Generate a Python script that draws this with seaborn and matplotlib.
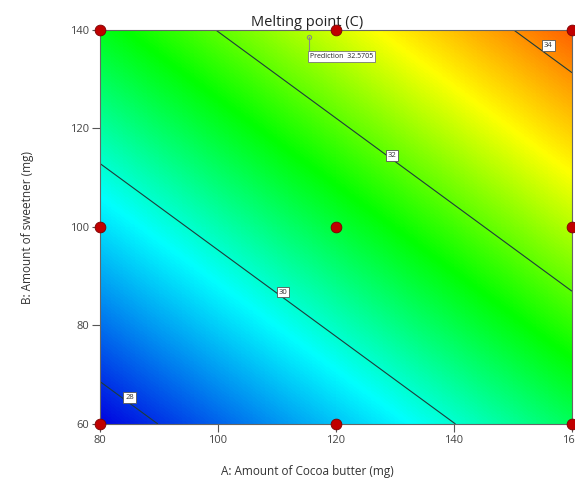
import numpy as np
import pandas as pd
import matplotlib
matplotlib.use("Agg")
import matplotlib.pyplot as plt
from matplotlib.colors import LinearSegmentedColormap
import seaborn as sns

# Design levels
cocoa_butter = [80, 120, 160]          # A (mg)
sweetener = [60, 100, 140]             # B (mg)
# Predicted melting point (C) at design grid, rows = sweetener, cols = cocoa butter
melting_point = [
    [27.61, 29.20, 30.78],   # B = 60
    [29.42, 31.00, 32.59],   # B = 100
    [31.22, 32.81, 34.39],   # B = 140
]
contour_levels = [28, 30, 32, 34]
x_ticks = [80, 100, 120, 140, 160]
y_ticks = [60, 80, 100, 120, 140]
pred_A, pred_B, pred_label = 115.4, 138.6, "Prediction  32.5705"

sns.set_theme(style="white")
plt.rcParams['font.family'] = ['Open Sans', 'DejaVu Sans']

fig = plt.figure(figsize=(5.75, 4.79), dpi=100)
ax = fig.add_axes([100/575, 1-424/479, 472/575, 394/479])

Z = np.array(melting_point)
vmin, vmax = 27.6, 35.2
nodes = [(27.6, "#0000e0"), (29.7, "#00ffff"), (31.4, "#00ff00"),
         (33.1, "#ffff00"), (35.2, "#ff0000")]
cmap = LinearSegmentedColormap.from_list(
    "de", [((v - vmin) / (vmax - vmin), c) for v, c in nodes])
ax.imshow(Z, origin="lower", extent=[60, 180, 40, 160], cmap=cmap,
          vmin=vmin, vmax=vmax, interpolation="bilinear", aspect="auto",
          interpolation_stage="data")

AA, BB = np.meshgrid(cocoa_butter, sweetener)
cs = ax.contour(AA, BB, Z, levels=contour_levels, colors="#1f3b3b", linewidths=0.8)
pos = {28: (85, 65.3), 30: (111, 86.8), 32: (129.5, 114.6), 34: (156, 136.8)}
for lev in contour_levels:
    x, y = pos[lev]
    ax.text(x, y, str(lev), fontsize=5.5, ha="center", va="center", color="#333333",
            bbox=dict(boxstyle="square,pad=0.25", fc="white", ec="#555555", lw=0.6),
            zorder=5)

pts = pd.DataFrame([(a, b) for a in cocoa_butter for b in sweetener], columns=["A", "B"])
sns.scatterplot(data=pts, x="A", y="B", ax=ax, s=60, color="#c00000",
                edgecolor="#7a0000", linewidth=0.6, clip_on=False, zorder=6, legend=False)

# prediction flag
ax.plot([pred_A, pred_A], [pred_B, 135.6], color="#888888", lw=0.8, zorder=7)
ax.plot([pred_A], [pred_B], marker="o", ms=3, mfc="none", mec="#888888", mew=0.8, zorder=7)
ax.text(pred_A + 0.2, 134.6, pred_label, fontsize=5, color="#222222",
        ha="left", va="center",
        bbox=dict(boxstyle="square,pad=0.3", fc="white", ec="#777777", lw=0.6),
        zorder=7)

ax.set_xlim(80, 160)
ax.set_ylim(60, 140)
ax.set_xticks(x_ticks)
ax.set_yticks(y_ticks)
ax.tick_params(axis="both", direction="out", length=6, width=0.8, color="#555555",
               labelsize=8, labelcolor="#444444", bottom=True, left=True, pad=2)
for s in ax.spines.values():
    s.set_color("#666666")
    s.set_linewidth(0.8)

title_x = (307 - 100) / 472
ax.set_title("Melting point (C)", fontsize=10.5, color="#222222", pad=3, x=title_x)
ax.set_xlabel("A: Amount of Cocoa butter (mg)", fontsize=8.5, color="#333333", labelpad=13)
ax.xaxis.set_label_coords(title_x, -0.105)
ax.set_ylabel("B: Amount of sweetner (mg)", fontsize=8.5, color="#333333", labelpad=26)

fig.savefig("out.png", dpi=100)
